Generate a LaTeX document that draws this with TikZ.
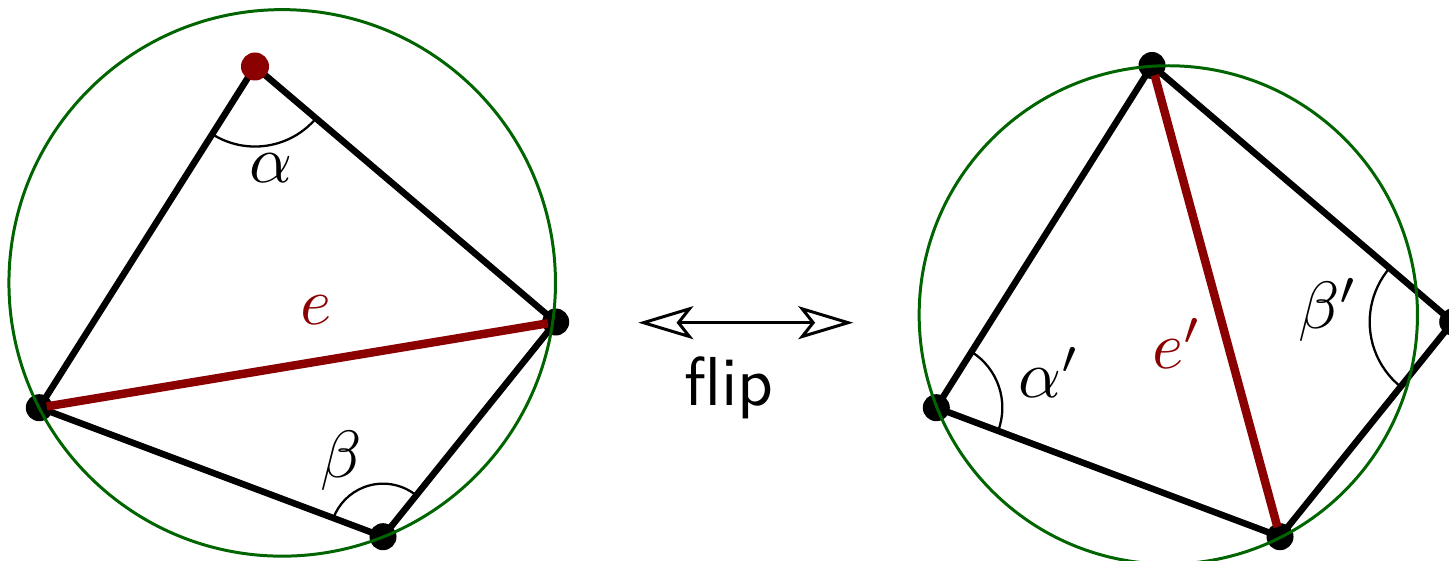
\documentclass[tikz,border=0pt]{standalone}
\usetikzlibrary{arrows.meta,angles}
\definecolor{edgered}{RGB}{139,0,0}
\definecolor{circgreen}{RGB}{0,100,0}
\begin{document}
\begin{tikzpicture}[x=0.01cm,y=0.01cm,
  edge/.style={line width=1.85pt, black},
  rededge/.style={line width=2.4pt, edgered},
  circ/.style={circgreen, line width=0.85pt},
  vdot/.style={circle, fill=black, inner sep=0pt, minimum size=0.27cm},
  rdot/.style={circle, fill=edgered, inner sep=0pt, minimum size=0.28cm},
  ang/.style={draw, line width=0.65pt},
  lbl/.style={scale=1.9, inner sep=0pt},
  fliplbl/.style={scale=1.97, font=\sffamily, inner sep=0pt},
  openhead/.tip={Stealth[open,length=0.55cm,width=0.33cm,inset=0.13cm]},
  flipar/.style={line width=0.85pt, {openhead}-{openhead}}
]
\useasboundingbox (0,0) rectangle (1449,561);

% ---- left quadrilateral ----
\coordinate (T) at (255,494.5);
\coordinate (L) at (39.3,153.3);
\coordinate (R) at (555.7,239);
\coordinate (B) at (383,24.3);

\draw[edge] (L) -- (T) -- (R) -- (B) -- cycle;
\pic[ang, angle radius=0.8cm] {angle = L--T--R};
\pic[ang, angle radius=0.53cm] {angle = R--B--L};
\node[vdot] (Ld) at (L) {};
\node[vdot] (Rd) at (R) {};
\node[vdot] (Bd) at (B) {};
\node[rdot] (Td) at (T) {};
\draw[rededge, shorten <=0.075cm, shorten >=0.08cm] (L) -- (R);
\draw[circ] (282.2,278.1) circle[radius=2.731cm];

\node[lbl] (alab) at (271,393) {$\alpha$};
\node[lbl, text=edgered] (elab) at (316,251) {$e$};
\node[lbl] (blab) at (340.7,100.3) {$\beta$};

% ---- flip arrow ----
\coordinate (A1) at (638.3,238.3);
\coordinate (A2) at (853.3,238.3);
\draw[flipar] (A1) -- (A2);
\node[fliplbl] (fliptext) at (729,172.7) {flip};

% ---- right quadrilateral ----
\coordinate (T2) at (1152,495.5);
\coordinate (L2) at (936.3,153.3);
\coordinate (R2) at (1452.7,239);
\coordinate (B2) at (1280,24.3);

\draw[edge] (L2) -- (T2) -- (R2) -- (B2) -- cycle;
\pic[ang, angle radius=0.66cm] {angle = B2--L2--T2};
\pic[ang, angle radius=0.83cm] {angle = T2--R2--B2};
\node[vdot] (L2d) at (L2) {};
\node[vdot] (R2d) at (R2) {};
\node[vdot] (B2d) at (B2) {};
\node[vdot] (T2d) at (T2) {};
\draw[rededge, shorten <=0.1cm, shorten >=0.1cm] (T2) -- (B2);
\draw[circ] (1168.3,246.1) circle[radius=2.49cm];

\node[lbl] (a2lab) at (1049.5,188.4) {$\alpha'$};
\node[lbl, text=edgered] (e2lab) at (1177.5,217.4) {$e'$};
\node[lbl] (b2lab) at (1328.1,250.8) {$\beta'$};
\end{tikzpicture}
\end{document}
